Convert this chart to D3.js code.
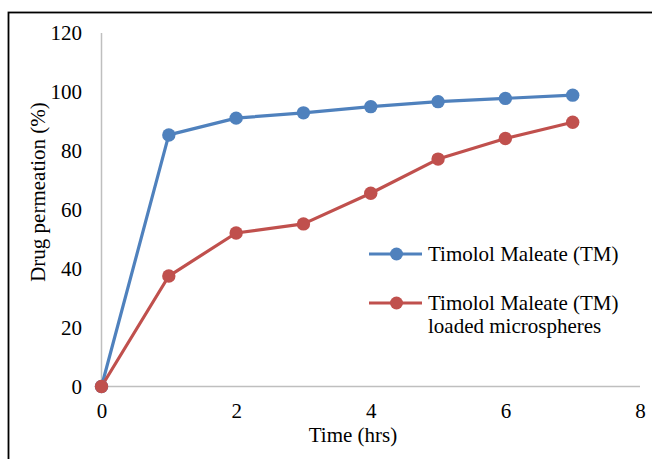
<!DOCTYPE html>
<html><head><meta charset="utf-8">
<script src="https://cdn.jsdelivr.net/npm/d3@7"></script>
</head><body style="margin:0;background:#fff"><svg id="c" width="652" height="459" font-family="Liberation Serif" style="display:block"></svg>
<script>
const times = [0,1,2,3,4,5,6,7];
const tmValues = [0,85.4,91.1,92.9,95.0,96.7,97.8,98.9];
const microValues = [0,37.5,52.1,55.2,65.6,77.2,84.2,89.7];
const seriesNames = ["Timolol Maleate (TM)", ["Timolol Maleate (TM)","loaded microspheres"]];
const seriesColors = ["#4F81BD","#C0504D"];
const xTicks = [0,2,4,6,8];
const yTicks = [0,20,40,60,80,100,120];

const FONT = "Liberation Serif";
const FS = 21;
const svg = d3.select("#c");
svg.append("rect").attr("x",8.5).attr("y",12.5).attr("width",660).attr("height",460)
  .attr("fill","none").attr("stroke","#000").attr("stroke-width",1.8);

const x = d3.scaleLinear().domain([0,8]).range([101.5,640]);
const y = d3.scaleLinear().domain([0,120]).range([386.5,33]);

svg.append("line").attr("x1",x(0)).attr("x2",x(0)).attr("y1",y(120)).attr("y2",y(0)).attr("stroke","#BFBFBF").attr("stroke-width",1.5);
svg.append("line").attr("x1",x(0)).attr("x2",x(8)).attr("y1",y(0)).attr("y2",y(0)).attr("stroke","#BFBFBF").attr("stroke-width",1.5);

const yAxis = svg.append("g").attr("transform",`translate(${x(0)},0)`)
  .call(d3.axisLeft(y).tickValues(yTicks).tickSize(0).tickPadding(19.5));
yAxis.attr("font-family",FONT).attr("font-size",FS);
yAxis.select(".domain").remove();
yAxis.selectAll("text").attr("fill","#000").attr("dy","0.33em");

const xAxis = svg.append("g").attr("transform",`translate(0,${y(0)})`)
  .call(d3.axisBottom(x).tickValues(xTicks).tickSize(0).tickPadding(17));
xAxis.attr("font-family",FONT).attr("font-size",FS);
xAxis.select(".domain").remove();
xAxis.selectAll("text").attr("fill","#000").attr("dy","0.71em");

const series = [tmValues, microValues];
const line = d3.line().x((d,i)=>x(times[i])).y(d=>y(d));
series.forEach((vals,k)=>{
  svg.append("path").datum(vals).attr("d",line).attr("fill","none")
    .attr("stroke",seriesColors[k]).attr("stroke-width",3.2).attr("stroke-linejoin","round");
});
series.forEach((vals,k)=>{
  svg.selectAll(null).data(vals).enter().append("circle")
    .attr("cx",(d,i)=>x(times[i])).attr("cy",d=>y(d)).attr("r",6.7).attr("fill",seriesColors[k]);
});

svg.append("text").attr("x",353).attr("y",442).attr("text-anchor","middle")
  .attr("font-family",FONT).attr("font-size",FS).text("Time (hrs)");
svg.append("text").attr("transform","translate(45,192) rotate(-90)").attr("text-anchor","middle")
  .attr("font-family",FONT).attr("font-size",FS).text("Drug permeation (%)");

const legY = [254,303];
series.forEach((vals,k)=>{
  const g = svg.append("g");
  g.append("line").attr("x1",369).attr("x2",422).attr("y1",legY[k]).attr("y2",legY[k]).attr("stroke",seriesColors[k]).attr("stroke-width",3.2);
  g.append("circle").attr("cx",396.5).attr("cy",legY[k]).attr("r",6.5).attr("fill",seriesColors[k]);
  const lines = Array.isArray(seriesNames[k]) ? seriesNames[k] : [seriesNames[k]];
  const t = g.append("text").attr("x",428).attr("y",legY[k]+7).attr("font-family",FONT).attr("font-size",FS);
  lines.forEach((s,j)=>t.append("tspan").attr("x",428).attr("dy",j?23:0).text(s));
});
</script></body></html>
